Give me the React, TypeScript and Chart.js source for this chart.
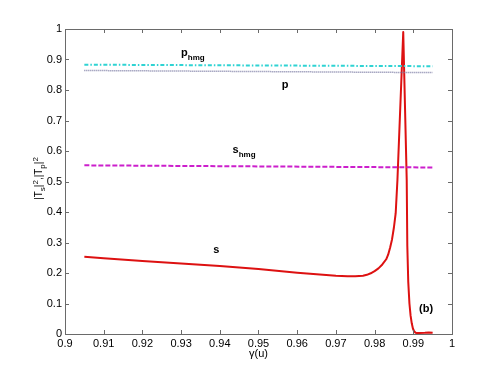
import React, { useEffect, useRef } from "react";
import { Chart, registerables } from "chart.js";

Chart.register(...registerables);

const FONT = "'Liberation Sans', Arial, Helvetica, sans-serif";

// flat curves (gamma from 0.905 to 0.995)
const gammaFlat = [0.905, 0.95, 0.995];
const pHmgVals = [0.883, 0.8805, 0.878];
const pVals = [0.864, 0.8605, 0.857];
const sHmgVals = [0.553, 0.5495, 0.546];

// s curve
const gammaS = [
  0.905, 0.91, 0.92, 0.93, 0.94, 0.95, 0.96, 0.965, 0.97, 0.973, 0.975,
  0.977, 0.978, 0.979, 0.98, 0.981, 0.982, 0.983, 0.9835, 0.984, 0.9845,
  0.985, 0.98545, 0.9859, 0.9874, 0.9883, 0.98845, 0.9887, 0.989, 0.9893,
  0.9896, 0.9899, 0.9902, 0.9906, 0.991, 0.993, 0.994, 0.995,
];
const sVals = [
  0.253, 0.248, 0.239, 0.231, 0.223, 0.213, 0.201, 0.196, 0.191, 0.189,
  0.189, 0.191, 0.194, 0.199, 0.206, 0.215, 0.228, 0.245, 0.26, 0.283, 0.31,
  0.35, 0.396, 0.505, 0.99, 0.505, 0.29, 0.17, 0.1, 0.06, 0.035, 0.018,
  0.009, 0.004, 0.003, 0.004, 0.005, 0.004,
];

type Run = [string, "n" | "sub" | "sup"];
const labelTexts: Run[][] = [
  [["p", "n"], ["hmg", "sub"]],
  [["p", "n"]],
  [["s", "n"], ["hmg", "sub"]],
  [["s", "n"]],
  [["(b)", "n"]],
];
const labelX = [0.93, 0.956, 0.9433, 0.9383, 0.9915];
const labelY = [0.911, 0.806, 0.5925, 0.2646, 0.0731];

const yTitle: Run[] = [
  ["|T", "n"], ["s", "sub"], ["|", "n"], ["2", "sup"], [",|T", "n"],
  ["p", "sub"], ["|", "n"], ["2", "sup"],
];
const xTitle = "γ(u)";

function runFont(k: string, size: number, weight: string) {
  const fs = k === "n" ? size : Math.round(size * 0.75);
  return `${weight} ${fs}px ${FONT}`;
}
function measureRuns(ctx: CanvasRenderingContext2D, runs: Run[], size: number, weight: string) {
  let w = 0;
  for (const [t, k] of runs) {
    ctx.font = runFont(k, size, weight);
    w += ctx.measureText(t).width;
  }
  return w;
}
function drawRuns(ctx: CanvasRenderingContext2D, runs: Run[], x: number, y: number, size: number, weight: string) {
  let cx = x;
  ctx.textAlign = "left";
  ctx.textBaseline = "alphabetic";
  for (const [t, k] of runs) {
    ctx.font = runFont(k, size, weight);
    const dy = k === "sub" ? size * 0.32 : k === "sup" ? -size * 0.45 : 0;
    ctx.fillText(t, cx, y + dy);
    cx += ctx.measureText(t).width;
  }
}

const decorPlugin = {
  id: "decor",
  afterDraw(chart: any) {
    const ctx: CanvasRenderingContext2D = chart.ctx;
    const { left, right, top, bottom } = chart.chartArea;
    const xs = chart.scales.x;
    const ys = chart.scales.y;
    ctx.save();
    ctx.strokeStyle = "#6a6a6a";
    ctx.lineWidth = 1;
    ctx.strokeRect(Math.round(left) + 0.5, Math.round(top) + 0.5, Math.round(right - left), Math.round(bottom - top));
    const tl = 4;
    ctx.beginPath();
    for (const t of xs.ticks) {
      const px = Math.round(xs.getPixelForValue(t.value)) + 0.5;
      ctx.moveTo(px, bottom);
      ctx.lineTo(px, bottom - tl);
      ctx.moveTo(px, top);
      ctx.lineTo(px, top + tl);
    }
    for (const t of ys.ticks) {
      const py = Math.round(ys.getPixelForValue(t.value)) + 0.5;
      ctx.moveTo(left, py);
      ctx.lineTo(left + tl, py);
      ctx.moveTo(right, py);
      ctx.lineTo(right - tl, py);
    }
    ctx.stroke();

    ctx.fillStyle = "#000";
    labelTexts.forEach((runs, i) => {
      drawRuns(ctx, runs, xs.getPixelForValue(labelX[i]), ys.getPixelForValue(labelY[i]), 11, "bold");
    });

    // x title
    ctx.font = `normal 11px ${FONT}`;
    ctx.textAlign = "center";
    ctx.textBaseline = "alphabetic";
    ctx.fillText(xTitle, (left + right) / 2, 357);

    // y title
    ctx.translate(42, (top + bottom) / 2 - 3);
    ctx.rotate(-Math.PI / 2);
    const w = measureRuns(ctx, yTitle, 10, "normal");
    drawRuns(ctx, yTitle, -w / 2, 0, 10, "normal");
    ctx.restore();
  },
};

const fmt = (v: any) => String(+Number(v).toFixed(2));

export default function App() {
  const ref = useRef<HTMLCanvasElement | null>(null);
  useEffect(() => {
    document.body.style.margin = "0";
    const mk = (xs: number[], ys: number[]) => xs.map((x, i) => ({ x, y: ys[i] }));
    const chart = new Chart(ref.current as HTMLCanvasElement, {
      type: "line",
      data: {
        datasets: [
          {
            label: "p_hmg",
            data: mk(gammaFlat, pHmgVals),
            borderColor: "#2fd3d3",
            borderWidth: 2,
            borderDash: [4, 2, 1.5, 2],
            pointRadius: 0,
          },
          {
            label: "p",
            data: mk(gammaFlat, pVals),
            borderColor: "#7c7ca4",
            borderWidth: 1.5,
            borderDash: [1, 1],
            pointRadius: 0,
          },
          {
            label: "s_hmg",
            data: mk(gammaFlat, sHmgVals),
            borderColor: "#cc1fcc",
            borderWidth: 2,
            borderDash: [5, 2],
            pointRadius: 0,
          },
          {
            label: "s",
            data: mk(gammaS, sVals),
            borderColor: "#dd1111",
            borderWidth: 2,
            pointRadius: 0,
            tension: 0,
            borderJoinStyle: "round",
          },
        ],
      },
      options: {
        animation: false,
        responsive: false,
        layout: { padding: { top: 29, right: 48, left: 0, bottom: 0 } },
        plugins: { legend: { display: false }, tooltip: { enabled: false } },
        scales: {
          x: {
            type: "linear",
            min: 0.9,
            max: 1,
            ticks: {
              stepSize: 0.01,
              callback: fmt,
              color: "#000",
              font: { family: FONT, size: 11 },
              padding: 3,
              maxRotation: 0,
              autoSkip: false,
            },
            grid: { display: false, drawTicks: false },
            border: { display: false },
            afterFit: (s: any) => {
              s.height = 41;
            },
          },
          y: {
            type: "linear",
            min: 0,
            max: 1,
            ticks: {
              stepSize: 0.1,
              callback: fmt,
              color: "#000",
              font: { family: FONT, size: 11 },
              padding: 3,
              autoSkip: false,
            },
            grid: { display: false, drawTicks: false },
            border: { display: false },
            afterFit: (s: any) => {
              s.width = 65;
            },
          },
        },
      },
      plugins: [decorPlugin],
    } as any);
    return () => chart.destroy();
  }, []);
  return (
    <div style={{ position: "fixed", left: 0, top: 0, width: 500, height: 375, background: "#fff" }}>
      <canvas ref={ref} width={500} height={375} />
    </div>
  );
}
